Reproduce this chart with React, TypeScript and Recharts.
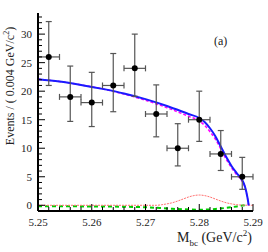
import React from 'react';
import { ComposedChart, Line, Scatter, ErrorBar, XAxis, YAxis } from 'recharts';

// binned data (bin width 0.004 GeV/c^2)
const binCenters = [5.252, 5.256, 5.26, 5.264, 5.268, 5.272, 5.276, 5.28, 5.284, 5.288];
const counts = [26, 19, 18, 21, 24, 16, 10, 15, 9, 5];
const errLow = [5.0, 4.3, 4.2, 4.6, 4.9, 4.0, 3.1, 3.8, 2.9, 2.2];
const errHigh = [6.2, 5.4, 5.3, 5.6, 6.0, 5.1, 4.3, 5.0, 4.1, 3.4];

// total fit (blue)
const totalX = [5.25, 5.254, 5.258, 5.262, 5.266, 5.27, 5.274, 5.278, 5.28, 5.281, 5.282, 5.283, 5.284, 5.285, 5.286, 5.287, 5.288, 5.2885, 5.289, 5.2892];
const totalY = [22.1, 21.7, 21.1, 20.4, 19.6, 18.6, 17.4, 16.0, 15.3, 14.6, 13.5, 12.1, 10.3, 8.5, 6.9, 5.6, 4.4, 3.3, 1.2, 0];
// background (magenta)
const bkgY = [22.1, 21.7, 21.1, 20.4, 19.5, 18.4, 17.1, 15.6, 14.8, 14.0, 12.9, 11.6, 9.9, 8.1, 6.6, 5.3, 4.2, 3.2, 1.1, 0];

// signal (red)
const sigX = [5.25, 5.272, 5.273, 5.274, 5.275, 5.276, 5.277, 5.278, 5.279, 5.28, 5.281, 5.282, 5.283, 5.284, 5.285, 5.286, 5.287, 5.288, 5.29];
const sigY = [0, 0, 0.1, 0.25, 0.45, 0.75, 1.1, 1.45, 1.7, 1.8, 1.7, 1.45, 1.1, 0.75, 0.45, 0.25, 0.1, 0.03, 0];

// other component (green)
const grnX = [5.25, 5.26, 5.266, 5.27, 5.274, 5.277, 5.28, 5.283, 5.285, 5.287, 5.289];
const grnY = [-0.15, -0.2, -0.25, -0.35, -0.55, -0.7, -0.78, -0.65, -0.45, -0.2, 0.1];

const xTicks = [5.25, 5.252, 5.254, 5.256, 5.258, 5.26, 5.262, 5.264, 5.266, 5.268, 5.27, 5.272, 5.274, 5.276, 5.278, 5.28, 5.282, 5.284, 5.286, 5.288, 5.29];
const yTicks = [-1, 0, 1, 2, 3, 4, 5, 6, 7, 8, 9, 10, 11, 12, 13, 14, 15, 16, 17, 18, 19, 20, 21, 22, 23, 24, 25, 26, 27, 28, 29, 30, 31, 32, 33];

const points = binCenters.map((x, i) => ({ x, y: counts[i], ex: 0.002, ey: [errLow[i], errHigh[i]] }));
const total = totalX.map((x, i) => ({ x, y: totalY[i] }));
const bkg = totalX.map((x, i) => ({ x, y: bkgY[i] }));
const sig = sigX.map((x, i) => ({ x, y: sigY[i] }));
const grn = grnX.map((x, i) => ({ x, y: grnY[i] }));

const serif = '"Liberation Serif", "DejaVu Serif", serif';
const isMajorX = (v: number) => Math.abs(v * 100 - Math.round(v * 100)) < 1e-6;
const isMajorY = (v: number) => v % 5 === 0;

const BottomTick = (p: any) => {
  const v = p.payload.value;
  const major = isMajorX(v);
  return (
    <g>
      <line x1={p.x} x2={p.x} y1={p.y} y2={p.y - (major ? 7 : 4)} stroke="#000" strokeWidth={1} />
      {major && (
        <text x={p.x} y={p.y + 15} textAnchor="middle" fontFamily={serif} fontSize={11} fill="#222">
          {v.toFixed(2)}
        </text>
      )}
    </g>
  );
};

const TopTick = (p: any) => {
  const major = isMajorX(p.payload.value);
  return <line x1={p.x} x2={p.x} y1={p.y} y2={p.y + (major ? 7 : 4)} stroke="#000" strokeWidth={1} />;
};

const LeftTick = (p: any) => {
  const v = p.payload.value;
  const major = isMajorY(v);
  return (
    <g>
      <line x1={p.x} x2={p.x + (major ? 7 : 4)} y1={p.y} y2={p.y} stroke="#000" strokeWidth={1} />
      {major && (
        <text x={p.x - 6} y={p.y + 4} textAnchor="end" fontFamily={serif} fontSize={11} fill="#222">
          {v}
        </text>
      )}
    </g>
  );
};

const RightTick = (p: any) => {
  const major = isMajorY(p.payload.value);
  return <line x1={p.x} x2={p.x - (major ? 7 : 4)} y1={p.y} y2={p.y} stroke="#000" strokeWidth={1} />;
};

const Dot = (p: any) => <circle cx={p.cx} cy={p.cy} r={3} fill="#000" />;

export default function App() {
  return (
    <div style={{ position: 'absolute', left: 0, top: 0, width: 268, height: 252, background: '#fff' }}>
      <ComposedChart width={268} height={252} margin={{ top: 13, right: 15, left: 0, bottom: 11 }}>
        <XAxis
          xAxisId={0}
          dataKey="x"
          type="number"
          domain={[5.25, 5.29]}
          ticks={xTicks}
          interval={0}
          height={30}
          tickSize={0}
          tickMargin={0}
          tickLine={false}
          tick={BottomTick}
          axisLine={{ stroke: '#000', strokeWidth: 2 }}
          allowDataOverflow
        />
        <XAxis
          xAxisId="top"
          orientation="top"
          type="number"
          domain={[5.25, 5.29]}
          ticks={xTicks}
          interval={0}
          height={0}
          tickSize={0}
          tickMargin={0}
          tickLine={false}
          tick={TopTick}
          axisLine={{ stroke: '#000', strokeWidth: 1.5 }}
          allowDataOverflow
        />
        <YAxis
          yAxisId={0}
          type="number"
          domain={[-1, 33.7]}
          ticks={yTicks}
          interval={0}
          width={38}
          tickSize={0}
          tickMargin={0}
          tickLine={false}
          tick={LeftTick}
          axisLine={{ stroke: '#000', strokeWidth: 2 }}
          allowDataOverflow
        />
        <YAxis
          yAxisId="right"
          orientation="right"
          type="number"
          domain={[-1, 33.7]}
          ticks={yTicks}
          interval={0}
          width={0}
          tickSize={0}
          tickMargin={0}
          tickLine={false}
          tick={RightTick}
          axisLine={{ stroke: '#000', strokeWidth: 1.5 }}
          allowDataOverflow
        />
        <Line data={grn} dataKey="y" type="monotone" stroke="#00cc00" strokeWidth={2} strokeDasharray="4 3" dot={false} isAnimationActive={false} />
        <Line data={sig} dataKey="y" type="monotone" stroke="#ff7070" strokeWidth={1} strokeDasharray="2 1" dot={false} isAnimationActive={false} />
        <Line data={bkg} dataKey="y" type="monotone" stroke="#ff00ff" strokeWidth={1.5} strokeDasharray="3 2" dot={false} isAnimationActive={false} />
        <Line data={total} dataKey="y" type="monotone" stroke="#1a1aff" strokeWidth={2} dot={false} isAnimationActive={false} />
        <Scatter data={points} dataKey="y" shape={Dot} isAnimationActive={false}>
          <ErrorBar dataKey="ex" direction="x" width={3} stroke="#555" strokeWidth={1.2} />
          <ErrorBar dataKey="ey" direction="y" width={3} stroke="#555" strokeWidth={1.2} />
        </Scatter>
      </ComposedChart>
      <div style={{ position: 'absolute', left: 214, top: 34, fontFamily: serif, fontSize: 12, color: '#222' }}>(a)</div>
      <div
        style={{
          position: 'absolute',
          left: 10 - 100,
          top: 86 - 8,
          width: 200,
          textAlign: 'center',
          transform: 'rotate(-90deg)',
          fontFamily: serif,
          fontSize: 12,
          lineHeight: '16px',
          color: '#222',
          whiteSpace: 'nowrap',
        }}
      >
        Events / ( 0.004 GeV/c<sup style={{ fontSize: 8, lineHeight: 0 }}>2</sup>)
      </div>
      <div style={{ position: 'absolute', left: 177, top: 230, fontFamily: serif, fontSize: 14, color: '#222', whiteSpace: 'nowrap' }}>
        M<sub style={{ fontSize: 9, lineHeight: 0 }}>bc</sub> (GeV/c<sup style={{ fontSize: 9, lineHeight: 0 }}>2</sup>)
      </div>
    </div>
  );
}
